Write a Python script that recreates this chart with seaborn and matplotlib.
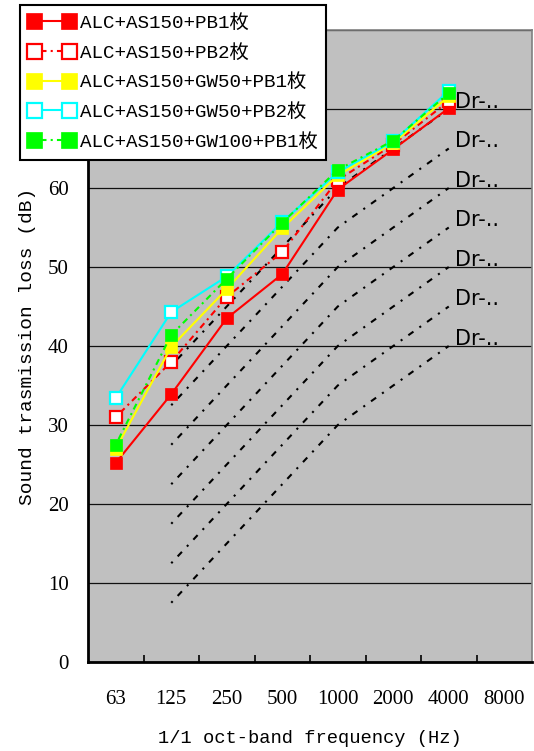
import matplotlib
matplotlib.use("Agg")
import matplotlib.pyplot as plt
import seaborn as sns

# Octave-band centre frequencies (Hz)
freq_labels = ["63", "125", "250", "500", "1000", "2000", "4000", "8000"]
measured_bands = ["63", "125", "250", "500", "1000", "2000", "4000"]
dr_bands = ["125", "250", "500", "1000", "2000", "4000"]

# Measured sound transmission loss (dB)
series_names = [
    "ALC+AS150+PB1枚",
    "ALC+AS150+PB2枚",
    "ALC+AS150+GW50+PB1枚",
    "ALC+AS150+GW50+PB2枚",
    "ALC+AS150+GW100+PB1枚",
]
alc_pb1 = [25.2, 33.9, 43.5, 49.1, 59.8, 64.9, 70.1]
alc_pb2 = [31.0, 38.0, 46.2, 51.9, 61.0, 65.5, 71.0]
gw50_pb1 = [27.0, 39.9, 47.2, 54.9, 61.6, 65.7, 71.6]
gw50_pb2 = [33.4, 44.3, 48.8, 55.7, 62.0, 65.9, 72.3]
gw100_pb1 = [27.5, 41.4, 48.5, 55.6, 62.3, 66.0, 72.0]

# Dr reference curves (dB)
dr_label = "Dr-.."
dr_40 = [7.5, 15.0, 22.5, 30.0, 35.0, 40.0]
dr_45 = [12.5, 20.0, 27.5, 35.0, 40.0, 45.0]
dr_50 = [17.5, 25.0, 32.5, 40.0, 45.0, 50.0]
dr_55 = [22.5, 30.0, 37.5, 45.0, 50.0, 55.0]
dr_60 = [27.5, 35.0, 42.5, 50.0, 55.0, 60.0]
dr_65 = [32.5, 40.0, 47.5, 55.0, 60.0, 65.0]
dr_70 = [37.5, 45.0, 52.5, 60.0, 65.0, 70.0]

W, H = 534, 751
fig = plt.figure(figsize=(W / 100, H / 100), dpi=100)
ax = fig.add_axes([88 / W, 1 - 662 / H, 444 / W, 632 / H])
ax.set_facecolor("#C0C0C0")

pos = {f: i for i, f in enumerate(freq_labels)}
mx = [pos[f] for f in measured_bands]
dx = [pos[f] for f in dr_bands]

serif = ["Liberation Serif", "DejaVu Serif"]
mono_cjk = ["Liberation Mono", "Noto Sans CJK JP"]

# reference curves, drawn underneath the measurements
dr_dash = (0, (1, 3.5, 3, 3.5))
for curve in [dr_40, dr_45, dr_50, dr_55, dr_60, dr_65, dr_70]:
    sns.lineplot(x=dx, y=curve, ax=ax, color="black", lw=1.5,
                 linestyle=dr_dash, errorbar=None, zorder=2)
    ax.text(dx[-1] + 0.12, curve[-1] + 0.9, dr_label, ha="left", va="center",
            fontsize=15, family=["DejaVu Sans"], zorder=4)

dot = (0, (1, 2, 3, 2))
styles = [
    (alc_pb1, "#FF0000", "-", "#FF0000"),
    (alc_pb2, "#FF0000", dot, "white"),
    (gw50_pb1, "#FFFF00", "-", "#FFFF00"),
    (gw50_pb2, "#00FFFF", "-", "white"),
    (gw100_pb1, "#00FF00", dot, "#00FF00"),
]
handles = []
for k, (vals, col, ls, face) in enumerate(styles):
    filled = face != "white"
    sns.lineplot(x=mx, y=vals, ax=ax, color=col, lw=1.5, linestyle=ls,
                 marker="s", markersize=9.0 if filled else 8.0,
                 markerfacecolor=face, markeredgecolor=col,
                 markeredgewidth=0.5 if filled else 1.6,
                 errorbar=None, zorder=5 + k)
    handles.append(ax.get_lines()[-1])
if ax.get_legend() is not None:
    ax.get_legend().remove()

ax.set_xlim(-0.5, 7.5)
ax.set_ylim(0, 80)
ax.set_xticks(range(len(freq_labels)))
ax.set_xticklabels(freq_labels, family=serif, fontsize=15)
ax.set_xticks([i + 0.5 for i in range(len(freq_labels) - 1)], minor=True)
ax.tick_params(axis="x", which="major", length=0, pad=20)
ax.tick_params(axis="x", which="minor", direction="in", length=5, width=1.2,
               color="black")
ax.set_yticks(range(0, 81, 10))
ax.set_yticklabels([str(v) for v in range(0, 81, 10)], family=serif,
                   fontsize=15)
ax.tick_params(axis="y", length=0, pad=14)
ax.yaxis.grid(True, color="#111111", lw=0.9)
ax.xaxis.grid(False)

for side in ["left", "bottom"]:
    ax.spines[side].set_color("black")
    ax.spines[side].set_linewidth(2)
for side in ["top", "right"]:
    ax.spines[side].set_color("#808080")
    ax.spines[side].set_linewidth(1.2)

ax.set_xlabel("1/1 oct-band frequency (Hz)", family=mono_cjk, fontsize=13.5)
ax.set_ylabel("Sound trasmission loss (dB)", family=mono_cjk, fontsize=14)
ax.xaxis.set_label_coords(0.5, -0.108)
ax.yaxis.set_label_coords(-0.118, 0.5)

leg = fig.legend(handles, series_names, loc="upper left",
                 bbox_to_anchor=(20 / W, 1 - 5 / H), borderaxespad=0,
                 prop={"family": mono_cjk, "size": 13.9}, numpoints=2,
                 handlelength=2.4, handletextpad=0.25, labelspacing=0.62,
                 borderpad=0.45, markerscale=1.35, fancybox=False,
                 frameon=True, framealpha=1, edgecolor="black")
leg.get_frame().set_linewidth(1.5)

fig.savefig("out.png", dpi=100, facecolor="white")
